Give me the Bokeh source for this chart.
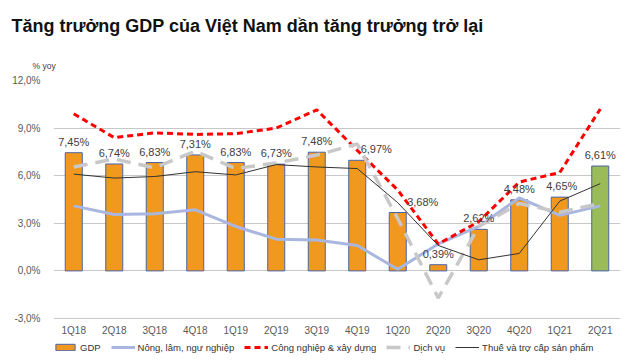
from bokeh.plotting import figure
from bokeh.models import (ColumnDataSource, FixedTicker, CustomJSTickFormatter, Legend,
                          LegendItem, Title, Range1d, FactorRange)
from bokeh.core.properties import value
from bokeh.embed import file_html
from bokeh.resources import INLINE

quarters = ["1Q18", "2Q18", "3Q18", "4Q18", "1Q19", "2Q19", "3Q19", "4Q19",
            "1Q20", "2Q20", "3Q20", "4Q20", "1Q21", "2Q21"]
gdp = [7.45, 6.74, 6.83, 7.31, 6.83, 6.73, 7.48, 6.97, 3.68, 0.39, 2.62, 4.48, 4.65, 6.61]
nong_lam = [4.1, 3.55, 3.6, 3.85, 2.8, 2.0, 1.95, 1.6, 0.1, 1.7, 2.8, 4.6, 3.5, 4.1]
cong_nghiep = [9.9, 8.4, 8.7, 8.6, 8.65, 9.0, 10.15, 7.6, 5.1, 1.7, 3.1, 5.6, 6.2, 10.2]
dich_vu = [6.55, 7.05, 6.5, 7.55, 6.45, 6.8, 7.3, 8.0, 3.3, -1.7, 2.8, 4.25, 3.7, 4.25]
thue = [6.1, 5.85, 5.95, 6.25, 6.05, 6.7, 6.55, 6.45, 4.3, 1.6, 0.7, 1.1, 4.4, 5.5]
y_ticks = [-3, 0, 3, 6, 9, 12]
y_min, y_max = -3, 12

series_names = ["GDP", "Nông, lâm, ngư nghiệp", "Công nghiệp & xây dựng", "Dịch vụ",
                "Thuế và trợ cấp sản phẩm"]
title_text = "Tăng trưởng GDP của Việt Nam dần tăng trưởng trở lại"

bar_colors = ["#F0991E"] * 13 + ["#9BBB59"]
label_dx = [0, 0, 0, 0, 0, 0, 0, 19, 25, 0, 0, 0, 2, 0]
FONT = "Liberation Sans"

src = ColumnDataSource(dict(
    q=quarters, gdp=gdp, nong=nong_lam, cong=cong_nghiep, dich=dich_vu, thue=thue,
    color=bar_colors,
    lbl=[f"{v:.2f}".replace(".", ",") + "%" for v in gdp],
    dx=label_dx,
))

# frame extends 46 px below the -3% line (15.867 px per unit) to host labels + legend
p = figure(width=640, height=364, x_range=FactorRange(*quarters, range_padding=0),
           y_range=Range1d(y_min - 46 / 15.867, y_max), output_backend="svg",
           toolbar_location=None, min_border_left=53, min_border_right=20,
           min_border_top=80, min_border_bottom=0)
p.outline_line_color = None

bars = p.vbar(x="q", top="gdp", width=0.42, source=src, fill_color="color",
              line_color="#4A64A8", line_width=1)
l_nong = p.line(x="q", y="nong", source=src, line_color="#A9B7E0", line_width=3)
l_cong = p.line(x="q", y="cong", source=src, line_color="#FF0000", line_width=3,
                line_dash="6 4")
l_dich = p.line(x="q", y="dich", source=src, line_color="#C8C8C8", line_width=3.5,
                line_dash="14 8")
l_thue = p.line(x="q", y="thue", source=src, line_color="#333333", line_width=1)

p.text(x="q", y="gdp", text="lbl", source=src, x_offset="dx", y_offset=-5,
       text_align="center", text_baseline="bottom", text_font=value(FONT),
       text_font_size="11px", text_color="#404040")

p.yaxis.ticker = FixedTicker(ticks=y_ticks)
p.yaxis.formatter = CustomJSTickFormatter(code="return tick.toFixed(1).replace('.', ',') + '%';")
p.xaxis.fixed_location = y_min
for ax in (p.xaxis, p.yaxis):
    ax.axis_line_color = None
    ax.major_tick_line_color = None
    ax.minor_tick_line_color = None
    ax.major_label_text_font = FONT
    ax.major_label_text_font_size = "10px"
    ax.major_label_text_color = "#595959"
p.yaxis.major_label_standoff = 7
p.xaxis.major_label_standoff = 0
p.xgrid.grid_line_color = None
p.ygrid.ticker = FixedTicker(ticks=y_ticks)
p.ygrid.grid_line_color = "#C8C8C8"
p.ygrid.grid_line_width = 1

p.title.text = title_text
p.title.align = "left"
p.title.offset = -42
p.title.text_font = FONT
p.title.text_font_size = "18px"
p.title.text_font_style = "bold"
p.title.text_color = "#111111"
p.title.standoff = 26

p.add_layout(Title(text="% yoy", align="left", offset=-21, text_font=FONT,
                   text_font_size="8.5px", text_font_style="normal",
                   text_color="#404040", standoff=20), "above")

legend = Legend(items=[LegendItem(label=n, renderers=[r]) for n, r in
                       zip(series_names, [bars, l_nong, l_cong, l_dich, l_thue])],
                location=(0, 11), orientation="horizontal", glyph_width=24, glyph_height=8,
                label_height=12, label_standoff=3, spacing=10, padding=0, margin=0,
                label_text_font=FONT, label_text_font_size="9.5px",
                label_text_color="#333333", background_fill_alpha=0, border_line_alpha=0)
p.add_layout(legend, "center")

open("out.html", "w").write(file_html(p, INLINE))
